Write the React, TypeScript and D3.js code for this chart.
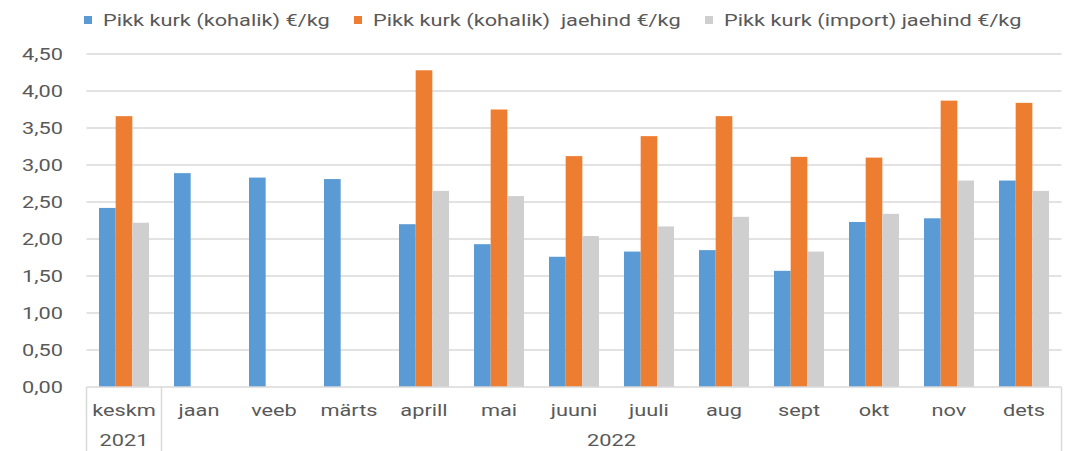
import React from 'react';
import * as d3 from 'd3';

const categories = ['keskm', 'jaan', 'veeb', 'märts', 'aprill', 'mai', 'juuni', 'juuli', 'aug', 'sept', 'okt', 'nov', 'dets'];
const years = [
  { label: '2021', from: 0, to: 0 },
  { label: '2022', from: 1, to: 12 },
];
const seriesNames = ['Pikk kurk (kohalik) €/kg', 'Pikk kurk (kohalik)  jaehind €/kg', 'Pikk kurk (import) jaehind €/kg'];
const seriesColors = ['#5B9BD5', '#ED7D31', '#CFCFCF'];
const localPrice: (number | null)[] = [2.42, 2.89, 2.83, 2.81, 2.2, 1.93, 1.76, 1.83, 1.85, 1.57, 2.23, 2.28, 2.79];
const localRetail: (number | null)[] = [3.66, null, null, null, 4.28, 3.75, 3.12, 3.39, 3.66, 3.11, 3.1, 3.87, 3.84];
const importRetail: (number | null)[] = [2.22, null, null, null, 2.65, 2.58, 2.04, 2.17, 2.3, 1.83, 2.34, 2.79, 2.65];
const yTicks = [0, 0.5, 1, 1.5, 2, 2.5, 3, 3.5, 4, 4.5];

const W = 1067;
const H = 451;
const font = 'Roboto, sans-serif';
const SX = 1.28; // text in the picture is horizontally stretched

// text helper, stretched horizontally around its anchor point
const T: React.FC<{ x: number; y: number; anchor?: string; children: React.ReactNode }> = ({ x, y, anchor = 'start', children }) => (
  <text
    transform={`translate(${x},${y}) scale(${SX},1)`}
    textAnchor={anchor}
    fontFamily={font}
    fontSize={17}
    fill="#595959"
    style={{ whiteSpace: 'pre' }}
  >
    {children}
  </text>
);

const App: React.FC = () => {
  const series = [localPrice, localRetail, importRetail];
  const left = 86.5;
  const right = 1061.5;
  const x = d3.scaleBand<string>().domain(categories).range([left, right]).paddingInner(0).paddingOuter(0);
  const y = d3.scaleLinear().domain([0, 4.5]).range([387, 54]);
  const inner = d3.scaleBand<number>().domain([0, 1, 2]).range([0, x.bandwidth()]).paddingOuter(0.75).paddingInner(0);
  const fmt = (v: number) => v.toFixed(2).replace('.', ',');

  const legendX = [84, 354, 705];

  return (
    <svg width={W} height={H} style={{ position: 'absolute', left: 0, top: 0, background: '#fff' }}>
      {/* legend */}
      {seriesNames.map((name, i) => (
        <g key={name} transform={`translate(${legendX[i]},0)`}>
          <rect x={0} y={16} width={8} height={8} fill={seriesColors[i]} />
          <T x={19} y={26}>{name}</T>
        </g>
      ))}

      {/* grid */}
      {yTicks.map(t => (
        <g key={t}>
          {t > 0 && <line x1={left} x2={right} y1={y(t)} y2={y(t)} stroke="#D9D9D9" strokeWidth={1.5} />}
          <T x={63} y={y(t) + 6} anchor="end">{fmt(t)}</T>
        </g>
      ))}

      {/* bars */}
      {series.map((vals, si) =>
        vals.map((v, ci) =>
          v == null ? null : (
            <rect
              key={`${si}-${ci}`}
              x={(x(categories[ci]) ?? 0) + (inner(si) ?? 0)}
              y={y(v)}
              width={inner.bandwidth()}
              height={y(0) - y(v)}
              fill={seriesColors[si]}
            />
          )
        )
      )}

      {/* category axis */}
      <line x1={left} x2={right} y1={y(0)} y2={y(0)} stroke="#D9D9D9" strokeWidth={1.5} />
      <line x1={left} x2={left} y1={y(0)} y2={H} stroke="#D9D9D9" strokeWidth={1.5} />
      {years.map(yr => {
        const x0 = x(categories[yr.from]) ?? 0;
        const x1 = (x(categories[yr.to]) ?? 0) + x.bandwidth();
        return (
          <g key={yr.label}>
            <line x1={x1} x2={x1} y1={y(0)} y2={H} stroke="#D9D9D9" strokeWidth={1.5} />
            <T x={(x0 + x1) / 2} y={446} anchor="middle">{yr.label}</T>
          </g>
        );
      })}
      {categories.map(c => (
        <T key={c} x={(x(c) ?? 0) + x.bandwidth() / 2} y={416} anchor="middle">{c}</T>
      ))}
    </svg>
  );
};

export default App;
